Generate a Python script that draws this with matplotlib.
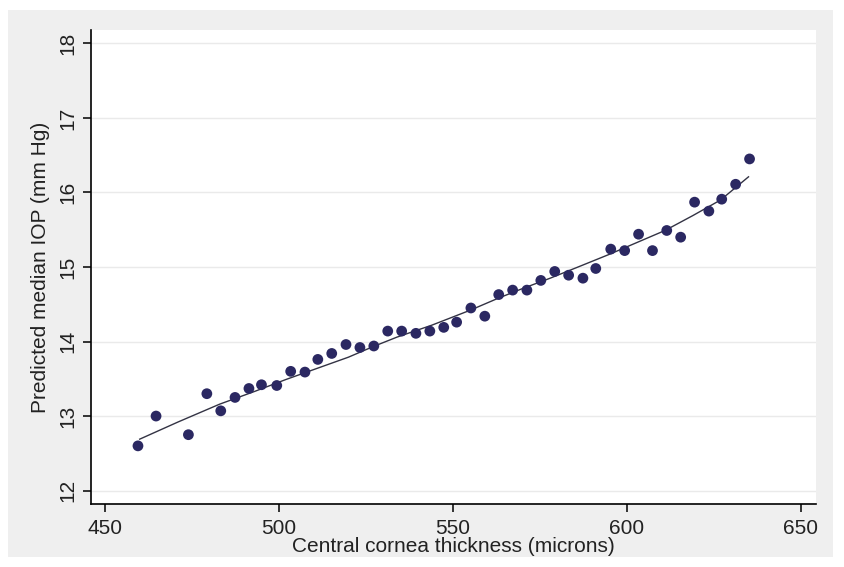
import matplotlib
matplotlib.use('Agg')
import matplotlib.pyplot as plt
from matplotlib.patches import Rectangle

# central corneal thickness (microns) vs predicted median IOP (mm Hg)
cct = [459.5, 464.7, 474.0, 479.3, 483.3, 487.4, 491.4, 495.0, 499.4, 503.4,
       507.5, 511.2, 515.2, 519.3, 523.3, 527.3, 531.3, 535.3, 539.4, 543.4,
       547.4, 551.1, 555.2, 559.2, 563.2, 567.2, 571.3, 575.3, 579.3, 583.3,
       587.4, 591.1, 595.4, 599.4, 603.4, 607.4, 611.5, 615.5, 619.5, 623.6,
       627.3, 631.3, 635.3]
iop = [12.60, 13.00, 12.75, 13.30, 13.07, 13.25, 13.37, 13.42, 13.41, 13.60,
       13.59, 13.76, 13.84, 13.96, 13.92, 13.94, 14.14, 14.14, 14.11, 14.14,
       14.19, 14.26, 14.45, 14.34, 14.63, 14.69, 14.69, 14.82, 14.94, 14.89,
       14.85, 14.98, 15.24, 15.22, 15.44, 15.22, 15.49, 15.40, 15.87, 15.75,
       15.91, 16.11, 16.45]

# smoothed fit line
fit_x = [460, 471, 483, 493, 502, 511, 520, 527, 534, 544, 555, 563, 570,
         578, 586, 595, 603, 611, 619, 627, 635]
fit_y = [12.69, 12.92, 13.16, 13.33, 13.49, 13.64, 13.79, 13.93, 14.06, 14.22,
         14.42, 14.58, 14.71, 14.85, 15.00, 15.17, 15.33, 15.49, 15.69, 15.90,
         16.21]

xticks = [450, 500, 550, 600, 650]
yticks = [12, 13, 14, 15, 16, 17, 18]

plt.rcParams['font.family'] = ['Liberation Sans Narrow', 'Liberation Sans', 'DejaVu Sans']

fig = plt.figure(figsize=(8.45, 5.67), dpi=100)
fig.patch.set_facecolor('white')

# gray graph region behind the plot
bg = fig.add_axes([0, 0, 1, 1], zorder=-1)
bg.axis('off')
bg.add_patch(Rectangle((8 / 845, 1 - 557 / 567), 825 / 845, 547 / 567,
                       transform=fig.transFigure, facecolor='#efefef',
                       edgecolor='none'))

ax = fig.add_axes([91 / 845, 1 - 504 / 567, 725 / 845, 474 / 567], zorder=1)
ax.set_facecolor('white')
ax.set_xlim(446, 654.4)
ax.set_ylim(11.82, 18.18)

for y in yticks:
    ax.axhline(y, color='#eaeaea', linewidth=1.0, zorder=1)

ax.plot(fit_x, fit_y, color='#333344', linewidth=1.0, zorder=2)
ax.scatter(cct, iop, s=60, color='#2b2862', edgecolors='none', zorder=3)

for side in ['top', 'right']:
    ax.spines[side].set_visible(False)
for side in ['left', 'bottom']:
    ax.spines[side].set_linewidth(1.2)
    ax.spines[side].set_color('black')

ax.set_xticks(xticks)
ax.set_yticks(yticks)
ax.tick_params(axis='both', direction='out', length=6, width=1.1,
               labelsize=15, colors='black', labelcolor='#222222')
ax.tick_params(axis='x', pad=5)
ax.tick_params(axis='y', pad=4)
for lbl in ax.get_yticklabels():
    lbl.set_rotation(90)
    lbl.set_va('center')

ax.set_xlabel('Central cornea thickness (microns)', fontsize=15,
              color='#222222', labelpad=-1)
ax.set_ylabel('Predicted median IOP (mm Hg)', fontsize=15,
              color='#222222', labelpad=6)

plt.savefig('out.png', dpi=100)
plt.close(fig)
